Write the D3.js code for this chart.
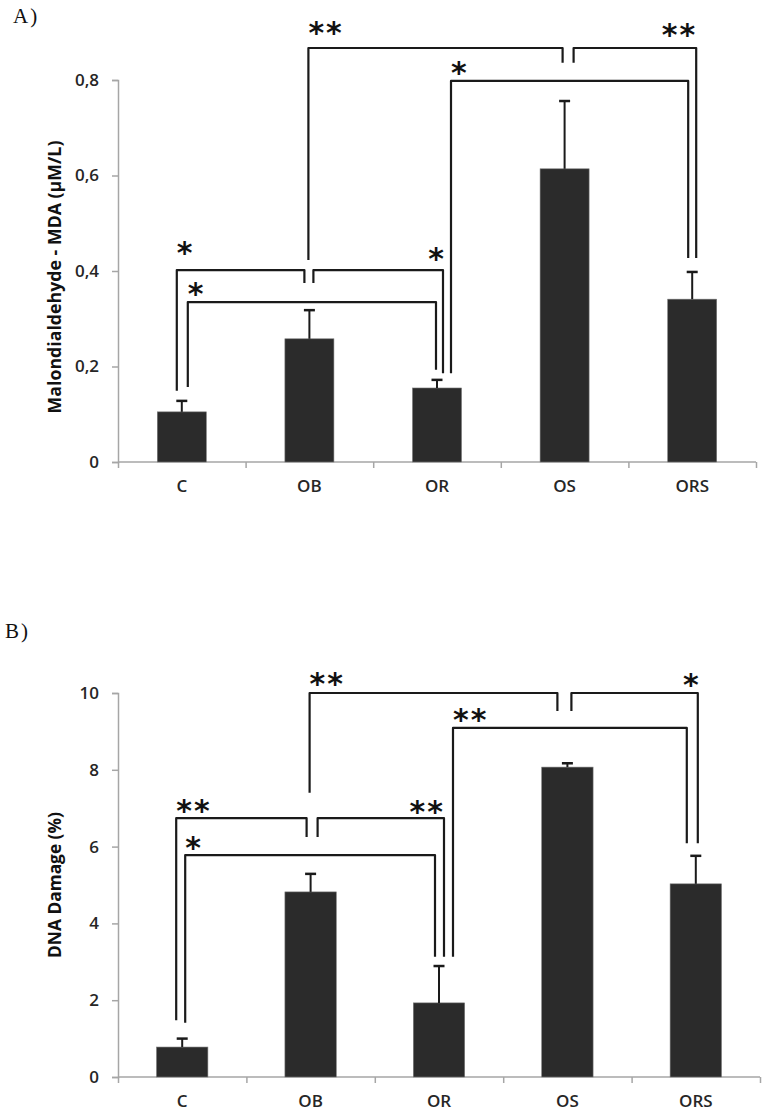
<!DOCTYPE html>
<html>
<head>
<meta charset="utf-8">
<script src="https://cdn.jsdelivr.net/npm/d3@7"></script>
<style>
  html, body { margin: 0; padding: 0; background: #fff; }
  svg { display: block; }
</style>
</head>
<body>
<svg id="chart" width="768" height="1118"></svg>
<script>
// ---------- DATA ----------
const categories = ["C", "OB", "OR", "OS", "ORS"];

// Panel A: Malondialdehyde (µM/L)
const mdaMean = [0.105, 0.258, 0.155, 0.614, 0.341];
const mdaErr  = [0.023, 0.060, 0.017, 0.142, 0.057];
const mdaTicks = [0, 0.2, 0.4, 0.6, 0.8];
const mdaTickLabels = ["0", "0,2", "0,4", "0,6", "0,8"];

// Panel B: DNA damage (%)
const dnaMean = [0.78, 4.82, 1.93, 8.07, 5.03];
const dnaErr  = [0.22, 0.47, 0.96, 0.10, 0.73];
const dnaTicks = [0, 2, 4, 6, 8, 10];
const dnaTickLabels = ["0", "2", "4", "6", "8", "10"];

// Significance brackets (levels in data units)
const mdaBrackets = [
  { from: "C",  to: "OB",  top: 0.402, fromEnd: 0.149, toEnd: 0.375, label: "*",  side: "left"  },
  { from: "OB", to: "OR",  top: 0.402, fromEnd: 0.375, toEnd: 0.186, label: "*",  side: "right" },
  { from: "C",  to: "OR",  top: 0.335, fromEnd: 0.157, toEnd: 0.193, label: "*",  side: "left"  },
  { from: "OB", to: "OS",  top: 0.867, fromEnd: 0.423, toEnd: 0.836, label: "**", side: "left"  },
  { from: "OS", to: "ORS", top: 0.867, fromEnd: 0.836, toEnd: 0.427, label: "**", side: "right" },
  { from: "OR", to: "ORS", top: 0.798, fromEnd: 0.186, toEnd: 0.427, label: "*",  side: "left"  }
];
const dnaBrackets = [
  { from: "C",  to: "OB",  top: 6.74, fromEnd: 1.48, toEnd: 6.25, label: "**", side: "left"  },
  { from: "OB", to: "OR",  top: 6.74, fromEnd: 6.25, toEnd: 3.13, label: "**", side: "right" },
  { from: "C",  to: "OR",  top: 5.78, fromEnd: 1.41, toEnd: 3.13, label: "*",  side: "left"  },
  { from: "OB", to: "OS",  top: 10.0, fromEnd: 7.40, toEnd: 9.53, label: "**", side: "left"  },
  { from: "OS", to: "ORS", top: 10.0, fromEnd: 9.53, toEnd: 6.09, label: "*",  side: "right" },
  { from: "OR", to: "ORS", top: 9.09, fromEnd: 3.13, toEnd: 6.09, label: "**", side: "left"  }
];

// ---------- LAYOUT (pixel nudges / styles, not data) ----------
const mdaLegNudge = [[-5, -5], [4, 6], [6, -1], [-1, -2], [9, 4], [14, -4]];
const mdaLabelDy  = [24, 18, 15, 22, 20, 15];
const dnaLegNudge = [[-6, -4], [7, 5], [3, -4], [-1, -10], [4, 2], [14, -9]];
const dnaLabelDy  = [14, 13, 14, 16, 15, 15];

const svg = d3.select("#chart");
const FONT = "'Open Sans', Lato, sans-serif";
const STAR_FONT = "'DejaVu Sans', sans-serif";
const STAR_SIZE = 30;

function drawPanel(cfg) {
  const g = svg.append("g");
  const x = d3.scaleBand().domain(categories).range(cfg.xRange)
    .paddingInner(cfg.pad).paddingOuter(cfg.pad / 2);
  const y = d3.scaleLinear().domain([0, cfg.ticks[cfg.ticks.length - 1]]).range(cfg.yRange);
  const xb = d3.scaleLinear().domain([0, categories.length]).range(cfg.xRange);

  // y axis
  const yAxis = g.append("g")
    .attr("transform", `translate(${cfg.xRange[0]},0)`)
    .call(d3.axisLeft(y).tickValues(cfg.ticks).tickSize(6).tickPadding(13)
      .tickFormat((d, i) => cfg.tickLabels[i]));
  yAxis.select(".domain").attr("stroke", "#a6a6a6").attr("stroke-width", 1.5);
  yAxis.selectAll(".tick line").attr("stroke", "#a6a6a6").attr("stroke-width", 1.5);
  yAxis.selectAll(".tick text").attr("font-family", FONT).attr("font-size", 17)
    .attr("font-weight", 600).attr("fill", "#262626");

  // x axis boundary ticks
  const xAxis = g.append("g")
    .attr("transform", `translate(0,${cfg.yRange[0]})`)
    .call(d3.axisBottom(xb).tickValues(d3.range(categories.length + 1)).tickSize(6)
      .tickFormat(""));
  xAxis.select(".domain").attr("stroke", "#a6a6a6").attr("stroke-width", 1.5)
    .attr("d", `M${cfg.xRange[0]},0H${cfg.xRange[1]}`);
  xAxis.selectAll(".tick line").attr("stroke", "#a6a6a6").attr("stroke-width", 1.5);

  // category labels
  const catAxis = g.append("g")
    .attr("transform", `translate(0,${cfg.yRange[0]})`)
    .call(d3.axisBottom(x).tickSize(0).tickPadding(cfg.catPad));
  catAxis.select(".domain").remove();
  catAxis.selectAll(".tick text").attr("font-family", FONT).attr("font-size", 17)
    .attr("font-weight", 600).attr("fill", "#262626");

  // bars
  g.selectAll("rect.bar").data(cfg.mean).join("rect")
    .attr("class", "bar")
    .attr("x", (d, i) => x(categories[i]))
    .attr("width", x.bandwidth())
    .attr("y", d => y(d))
    .attr("height", d => y(0) - y(d))
    .attr("fill", "#2b2b2b")
    .attr("stroke", "#777").attr("stroke-width", 0.6);

  // error bars (upper only)
  const cx = i => x(categories[i]) + x.bandwidth() / 2;
  g.selectAll("line.err").data(cfg.mean).join("line")
    .attr("class", "err")
    .attr("x1", (d, i) => cx(i)).attr("x2", (d, i) => cx(i))
    .attr("y1", d => y(d)).attr("y2", (d, i) => y(d + cfg.err[i]))
    .attr("stroke", "#1a1a1a").attr("stroke-width", 2);
  g.selectAll("line.cap").data(cfg.mean).join("line")
    .attr("class", "cap")
    .attr("x1", (d, i) => cx(i) - 5.5).attr("x2", (d, i) => cx(i) + 5.5)
    .attr("y1", (d, i) => y(d + cfg.err[i])).attr("y2", (d, i) => y(d + cfg.err[i]))
    .attr("stroke", "#1a1a1a").attr("stroke-width", 2.5);

  // brackets
  const center = c => x(c) + x.bandwidth() / 2;
  cfg.brackets.forEach((b, i) => {
    const x1 = center(b.from) + cfg.legNudge[i][0];
    const x2 = center(b.to) + cfg.legNudge[i][1];
    const yt = y(b.top);
    const path = d3.path();
    path.moveTo(x1, y(b.fromEnd));
    path.lineTo(x1, yt);
    path.lineTo(x2, yt);
    path.lineTo(x2, y(b.toEnd));
    g.append("path").attr("d", path.toString())
      .attr("fill", "none").attr("stroke", "#1a1a1a").attr("stroke-width", 2.2)
      .attr("stroke-linejoin", "round");
    const starCenterY = yt - cfg.labelDy[i];
    g.append("text")
      .attr("x", b.side === "left" ? x1 : x2 + 1)
      .attr("y", starCenterY + STAR_SIZE * 0.56)
      .attr("text-anchor", b.side === "left" ? "start" : "end")
      .attr("font-family", STAR_FONT).attr("font-size", STAR_SIZE)
      .attr("font-weight", "bold")
      .attr("letter-spacing", b.label.length > 1 ? 2 : 0)
      .attr("fill", "#111")
      .text(b.label);
  });

  // y axis title (sized to the reference's span)
  const midY = (cfg.yRange[0] + cfg.yRange[1]) / 2 + cfg.titleShift;
  const title = g.append("text")
    .attr("transform", `translate(${cfg.titleX},${midY}) rotate(-90)`)
    .attr("text-anchor", "middle")
    .attr("font-family", FONT).attr("font-weight", "bold").attr("font-size", 16)
    .attr("fill", "#111")
    .text(cfg.title);
  const len = title.node().getComputedTextLength();
  if (len > 0) title.attr("font-size", Math.min(19, 16 * cfg.titleLen / len));

  // panel letter
  g.append("text")
    .attr("x", cfg.letterPos[0]).attr("y", cfg.letterPos[1])
    .attr("font-family", "'Liberation Serif', 'DejaVu Serif', serif")
    .attr("font-size", 21).attr("letter-spacing", 2).attr("fill", "#111")
    .text(cfg.letter);
}

drawPanel({
  mean: mdaMean, err: mdaErr, ticks: mdaTicks, tickLabels: mdaTickLabels,
  brackets: mdaBrackets, legNudge: mdaLegNudge, labelDy: mdaLabelDy,
  xRange: [118, 756], yRange: [462, 80], pad: 0.616, catPad: 18,
  title: "Malondialdehyde - MDA (µM/L)", titleX: 61, titleShift: 6, titleLen: 273,
  letter: "A)", letterPos: [13, 23]
});

drawPanel({
  mean: dnaMean, err: dnaErr, ticks: dnaTicks, tickLabels: dnaTickLabels,
  brackets: dnaBrackets, legNudge: dnaLegNudge, labelDy: dnaLabelDy,
  xRange: [118, 760], yRange: [1077, 693], pad: 0.6, catPad: 18,
  title: "DNA Damage (%)", titleX: 61, titleShift: 0, titleLen: 146,
  letter: "B)", letterPos: [5, 638]
});
</script>
</body>
</html>
